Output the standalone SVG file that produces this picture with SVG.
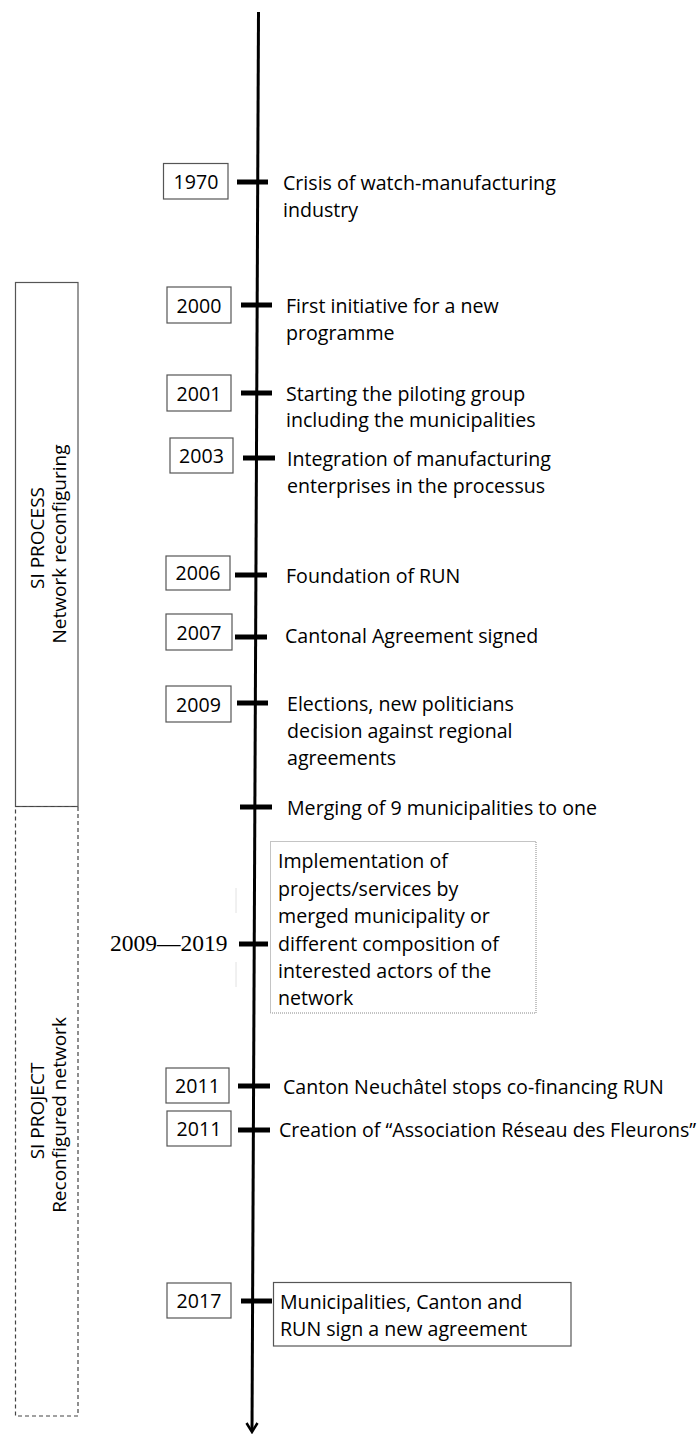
<svg xmlns="http://www.w3.org/2000/svg" width="700" height="1434" viewBox="0 0 700 1434">
<style>
text{font-family:"Open Sans","Liberation Sans",sans-serif;font-size:19.6px;fill:#000}
.yr{text-anchor:middle}
.ybox{fill:#fff;stroke:#555;stroke-width:1.2}
.tick{stroke:#000;stroke-width:5}
.serif{font-family:"Liberation Serif","DejaVu Serif",serif;font-size:23.5px}
.mid{text-anchor:middle;font-size:19px}
</style>
<rect width="700" height="1434" fill="#fff"/>
<g id="phases">
  <g id="si-process">
    <rect x="15.5" y="282.5" width="62.5" height="524" fill="none" stroke="#555" stroke-width="1.2"/>
    <text class="mid" transform="translate(44,538) rotate(-90)">SI PROCESS</text>
    <text class="mid" transform="translate(66,544) rotate(-90)">Network reconfiguring</text>
  </g>
  <g id="si-project">
    <rect x="15.5" y="806.5" width="62.5" height="609.5" fill="none" stroke="#444" stroke-width="1.2" stroke-dasharray="4,3"/>
    <text class="mid" transform="translate(44,1111) rotate(-90)">SI PROJECT</text>
    <text class="mid" transform="translate(66,1115) rotate(-90)">Reconfigured network</text>
  </g>
</g>
<g id="connectors">
  <line x1="258.5" y1="12" x2="252" y2="1431" stroke="#000" stroke-width="3"/>
  <polyline points="246.5,1423 252,1432 257.5,1423" fill="none" stroke="#000" stroke-width="2.5"/>
  <line class="tick" x1="237" y1="182" x2="268" y2="182"/>
  <line class="tick" x1="241" y1="305" x2="272" y2="305"/>
  <line class="tick" x1="241" y1="393" x2="272" y2="393"/>
  <line class="tick" x1="243" y1="458" x2="275" y2="458"/>
  <line class="tick" x1="235" y1="575" x2="267" y2="575"/>
  <line class="tick" x1="235" y1="637" x2="267" y2="637"/>
  <line class="tick" x1="237" y1="703" x2="268" y2="703"/>
  <line class="tick" x1="240" y1="807" x2="272" y2="807"/>
  <line class="tick" x1="239" y1="944" x2="268" y2="944"/>
  <line class="tick" x1="238" y1="1086" x2="270" y2="1086"/>
  <line class="tick" x1="238" y1="1130" x2="270" y2="1130"/>
  <line class="tick" x1="241" y1="1301" x2="272" y2="1301"/>
  <line x1="236" y1="888" x2="236" y2="913" stroke="#e2e2e2" stroke-width="1"/>
  <line x1="236" y1="962" x2="236" y2="987" stroke="#e2e2e2" stroke-width="1"/>
</g>
<g id="e1970">
  <rect class="ybox" x="163.5" y="163.5" width="64.5" height="35.5"/>
  <text class="yr" x="196" y="189">1970</text>
  <text x="283" y="190">Crisis of watch-manufacturing</text>
  <text x="283" y="216.5">industry</text>
</g>
<g id="e2000">
  <rect class="ybox" x="167" y="287" width="64" height="36"/>
  <text class="yr" x="199" y="312.5">2000</text>
  <text x="286" y="313">First initiative for a new</text>
  <text x="286" y="339.5">programme</text>
</g>
<g id="e2001">
  <rect class="ybox" x="167" y="375" width="64" height="36"/>
  <text class="yr" x="199" y="400.5">2001</text>
  <text x="286" y="401">Starting the piloting group</text>
  <text x="286" y="427">including the municipalities</text>
</g>
<g id="e2003">
  <rect class="ybox" x="170" y="438" width="63" height="35"/>
  <text class="yr" x="201.5" y="463">2003</text>
  <text x="287" y="466">Integration of manufacturing</text>
  <text x="287" y="492.5">enterprises in the processus</text>
</g>
<g id="e2006">
  <rect class="ybox" x="166" y="556" width="64" height="34"/>
  <text class="yr" x="198" y="580">2006</text>
  <text x="286" y="583">Foundation of RUN</text>
</g>
<g id="e2007">
  <rect class="ybox" x="166" y="614" width="66" height="36"/>
  <text class="yr" x="199" y="639.5">2007</text>
  <text x="285" y="643">Cantonal Agreement signed</text>
</g>
<g id="e2009">
  <rect class="ybox" x="166" y="686" width="65" height="36"/>
  <text class="yr" x="198.5" y="711.5">2009</text>
  <text x="287" y="711">Elections, new politicians</text>
  <text x="287" y="738">decision against regional</text>
  <text x="287" y="765">agreements</text>
</g>
<g id="emerge">
  <text x="287" y="815">Merging of 9 municipalities to one</text>
</g>
<g id="e2009-2019">
  <text class="serif" x="110" y="951">2009—2019</text>
  <rect x="270.5" y="841.5" width="265.5" height="171.5" fill="#fff" stroke="#888" stroke-width="1" stroke-dasharray="1,1"/>
  <text x="278" y="868">Implementation of</text>
  <text x="278" y="895.5">projects/services by</text>
  <text x="278" y="923">merged municipality or</text>
  <text x="278" y="950.5">different composition of</text>
  <text x="278" y="978">interested actors of the</text>
  <text x="278" y="1005">network</text>
</g>
<g id="e2011a">
  <rect class="ybox" x="166" y="1068" width="63" height="35"/>
  <text class="yr" x="197.5" y="1093">2011</text>
  <text x="283" y="1093.5">Canton Neuchâtel stops co-financing RUN</text>
</g>
<g id="e2011b">
  <rect class="ybox" x="167" y="1111" width="64" height="35"/>
  <text class="yr" x="199" y="1136">2011</text>
  <text x="279" y="1137">Creation of “Association Réseau des Fleurons”</text>
</g>
<g id="e2017">
  <rect class="ybox" x="167" y="1283" width="64" height="35"/>
  <text class="yr" x="199" y="1308">2017</text>
  <rect x="273.5" y="1282.5" width="297.5" height="63.5" fill="#fff" stroke="#555" stroke-width="1.2"/>
  <text x="280" y="1308.5">Municipalities, Canton and</text>
  <text x="280" y="1336">RUN sign a new agreement</text>
</g>
</svg>
